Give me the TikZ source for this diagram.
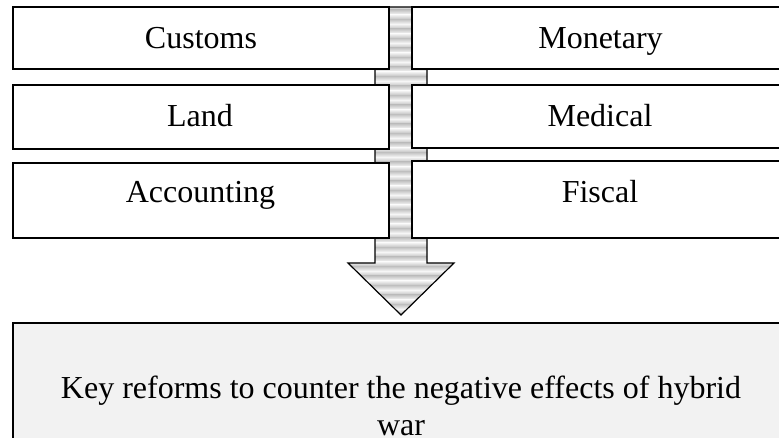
\documentclass[tikz,border=0pt]{standalone}
\usepackage{fontspec}
\setmainfont{Liberation Serif}
\definecolor{stripelight}{HTML}{F6F6F6}
\definecolor{stripedark}{HTML}{C2C2C2}
\definecolor{resultfill}{HTML}{F2F2F2}
\begin{document}
\begin{tikzpicture}[x=1pt,y=-1pt,
  box/.style={draw=black, line width=1.2pt, fill=white, inner sep=0pt,
    outer sep=0pt, anchor=north west},
  lbl/.style={anchor=base, inner sep=0pt, font=\fontsize{32}{37}\selectfont},
  outline/.style={draw=black, line width=1.2pt, line join=miter},
]
\useasboundingbox (0,0) rectangle (779,437);
\clip (0,0) rectangle (779,437);

% block arrow running down behind the boxes, filled with soft horizontal stripes
\coordinate (tip) at (401,315);
\begin{scope}
  \clip (375,7) -- (427,7) -- (427,263) -- (454,263) -- (tip)
        -- (348,263) -- (375,263) -- cycle;
  \fill[stripelight] (340,0) rectangle (460,320);
  \foreach \y in {5,14.5,...,320} {
    \shade[top color=stripelight, bottom color=stripedark]
      (340,\y) rectangle (460,\y+4.75);
    \shade[top color=stripedark, bottom color=stripelight]
      (340,\y+4.75) rectangle (460,\y+9.5);
  }
\end{scope}
\draw[outline] (375,7) -- (427,7) -- (427,263) -- (454,263) -- (tip)
      -- (348,263) -- (375,263) -- cycle;

% areas of reform, left column
\node[box, minimum width=376, minimum height=62] (customs)    at (13,7)   {};
\node[box, minimum width=376, minimum height=64] (land)       at (13,85)  {};
\node[box, minimum width=376, minimum height=75] (accounting) at (13,163) {};
% areas of reform, right column
\node[box, minimum width=378, minimum height=62] (monetary)   at (412,7)   {};
\node[box, minimum width=378, minimum height=63] (medical)    at (412,85)  {};
\node[box, minimum width=378, minimum height=77] (fiscal)     at (412,161) {};

\node[lbl] (tcustoms)    at (201,48)  {Customs};
\node[lbl] (tland)       at (200,126) {Land};
\node[lbl] (taccounting) at (200.5,202) {Accounting};
\node[lbl] (tmonetary)   at (600.5,48)  {Monetary};
\node[lbl] (tmedical)    at (600,126) {Medical};
\node[lbl] (tfiscal)     at (600,202) {Fiscal};

% outcome box
\node[box, fill=resultfill, minimum width=777, minimum height=130] (result) at (13,323) {};
\node[lbl, anchor=north, align=center] (tresult) at (401,375.5)
  {Key reforms to counter the negative effects of hybrid\\war};
\end{tikzpicture}
\end{document}
